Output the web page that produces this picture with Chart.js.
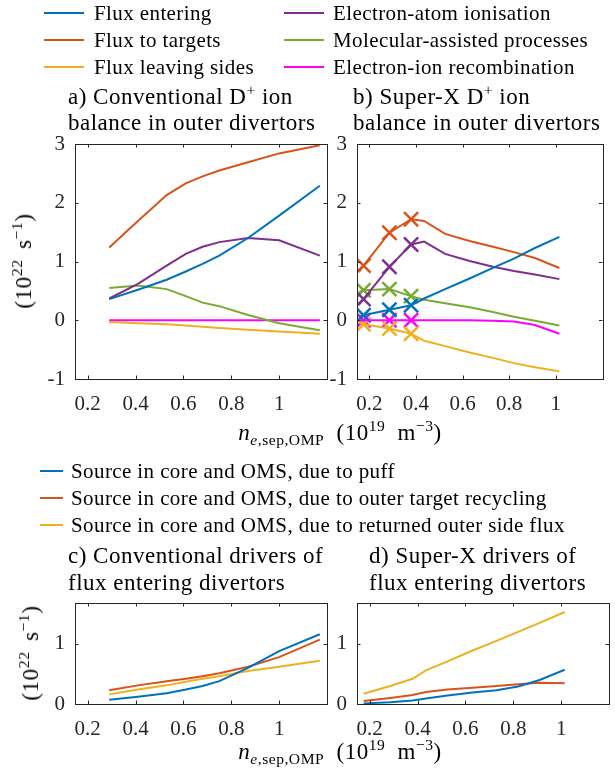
<!DOCTYPE html>
<html><head><meta charset="utf-8">
<script src="https://cdn.jsdelivr.net/npm/chart.js@4"></script>
<style>
html,body{margin:0;padding:0;background:#fff}
body{width:615px;height:772px;overflow:hidden;position:relative;font-family:"Liberation Serif","Times New Roman","DejaVu Serif",serif;color:#000}
canvas{position:absolute;left:0;top:0}
.t{position:absolute;white-space:nowrap;font-size:21px;line-height:24px;height:24px;letter-spacing:0.4px}
.h{font-size:23px;line-height:26px;height:26px;letter-spacing:0.5px}
.ln{position:absolute;height:2px}
sup{font-size:68%;vertical-align:0.55em;line-height:0}
sub{font-size:68%;vertical-align:-0.35em;line-height:0}
.rot{position:absolute;white-space:nowrap;font-size:23px;line-height:24px;transform:translate(-50%,-50%) rotate(-90deg);letter-spacing:0.6px;word-spacing:4px}
.xl{position:absolute;white-space:nowrap;font-size:23px;line-height:24px;transform:translate(-50%,-50%);letter-spacing:0.5px;word-spacing:6px}
</style></head><body>
<canvas id="ca" width="615" height="772"></canvas>
<canvas id="cb" width="615" height="772"></canvas>
<canvas id="cc" width="615" height="772"></canvas>
<canvas id="cd" width="615" height="772"></canvas>

<!-- top legend -->
<div class="ln" style="left:44px;width:40px;top:12px;background:#0072BD"></div><div class="t" style="left:94px;top:1px">Flux entering</div>
<div class="ln" style="left:44px;width:40px;top:39px;background:#D95319"></div><div class="t" style="left:94px;top:28px">Flux to targets</div>
<div class="ln" style="left:44px;width:40px;top:66px;background:#EDB120"></div><div class="t" style="left:94px;top:55px">Flux leaving sides</div>
<div class="ln" style="left:284px;width:40px;top:12px;background:#7E2F8E"></div><div class="t" style="left:333px;top:1px">Electron-atom ionisation</div>
<div class="ln" style="left:284px;width:40px;top:39px;background:#77AC30"></div><div class="t" style="left:333px;top:28px">Molecular-assisted processes</div>
<div class="ln" style="left:284px;width:40px;top:66px;background:#FF00FF"></div><div class="t" style="left:333px;top:55px">Electron-ion recombination</div>

<!-- top titles -->
<div class="t h" style="left:68px;top:84px">a) Conventional D<sup>+</sup> ion</div>
<div class="t h" style="left:68px;top:110px">balance in outer divertors</div>
<div class="t h" style="left:353px;top:84px">b) Super-X D<sup>+</sup> ion</div>
<div class="t h" style="left:353px;top:110px">balance in outer divertors</div>

<div class="rot" style="left:24px;top:261px">(10<sup>22</sup> s<sup>−1</sup>)</div>
<div class="xl" style="left:340px;top:433px"><i>n</i><sub><i>e</i>,sep,OMP</sub> (10<sup>19</sup> m<sup>−3</sup>)</div>

<!-- bottom legend -->
<div class="ln" style="left:40px;width:23px;top:470px;background:#0072BD"></div><div class="t" style="left:71px;top:459px">Source in core and OMS, due to puff</div>
<div class="ln" style="left:40px;width:23px;top:497px;background:#D95319"></div><div class="t" style="left:71px;top:486px">Source in core and OMS, due to outer target recycling</div>
<div class="ln" style="left:40px;width:23px;top:524px;background:#EDB120"></div><div class="t" style="left:71px;top:513px">Source in core and OMS, due to returned outer side flux</div>

<div class="t h" style="left:68px;top:543px">c) Conventional drivers of</div>
<div class="t h" style="left:68px;top:570px">flux entering divertors</div>
<div class="t h" style="left:369px;top:543px">d) Super-X drivers of</div>
<div class="t h" style="left:369px;top:570px">flux entering divertors</div>

<div class="rot" style="left:31px;top:653px">(10<sup>22</sup> s<sup>−1</sup>)</div>
<div class="xl" style="left:340px;top:752px"><i>n</i><sub><i>e</i>,sep,OMP</sub> (10<sup>19</sup> m<sup>−3</sup>)</div>

<script>
// ---- data ----
const xTickValues = [0.2, 0.4, 0.6, 0.8, 1];
const yTickValuesTop = [-1, 0, 1, 2, 3];
const yTickValuesBottom = [0, 1];

// a) Conventional ion balance
const xConv = [0.29, 0.41, 0.53, 0.61, 0.68, 0.75, 0.87, 1.0, 1.17];
const convFluxEntering = [0.36, 0.52, 0.69, 0.83, 0.96, 1.10, 1.40, 1.78, 2.29];
const convFluxTargets  = [1.24, 1.69, 2.13, 2.33, 2.45, 2.55, 2.69, 2.84, 2.98];
const convFluxSides    = [-0.03, -0.05, -0.07, -0.09, -0.11, -0.13, -0.16, -0.19, -0.23];
const convIonisation   = [0.37, 0.62, 0.93, 1.13, 1.25, 1.33, 1.40, 1.36, 1.10];
const convMolecular    = [0.55, 0.59, 0.53, 0.41, 0.30, 0.24, 0.09, -0.05, -0.17];
const convRecomb       = [0, 0, 0, 0, 0, 0, 0, 0, 0];

// b) Super-X ion balance
const xSX = [0.155, 0.175, 0.286, 0.379, 0.435, 0.525, 0.63, 0.73, 0.82, 0.91, 1.015];
const sxFluxEntering = [0.06, 0.085, 0.18, 0.255, 0.37, 0.53, 0.71, 0.89, 1.05, 1.23, 1.42];
const sxFluxTargets  = [0.82, 0.93, 1.49, 1.72, 1.69, 1.47, 1.35, 1.25, 1.16, 1.06, 0.89];
const sxFluxSides    = [-0.03, -0.07, -0.14, -0.23, -0.35, -0.44, -0.55, -0.64, -0.73, -0.80, -0.87];
const sxIonisation   = [0.26, 0.36, 0.91, 1.29, 1.34, 1.13, 1.01, 0.91, 0.84, 0.78, 0.70];
const sxMolecular    = [0.48, 0.51, 0.53, 0.41, 0.35, 0.29, 0.22, 0.14, 0.06, -0.01, -0.09];
const sxRecomb       = [0, 0, 0, 0, 0, 0, 0, -0.01, -0.02, -0.08, -0.23];
// marked (x) cases in Super-X
const xSXMarked = [0.175, 0.286, 0.379];
const sxMarkEntering = [0.085, 0.18, 0.255];
const sxMarkTargets  = [0.93, 1.49, 1.72];
const sxMarkSides    = [-0.07, -0.14, -0.23];
const sxMarkIonisation = [0.36, 0.91, 1.29];
const sxMarkMolecular  = [0.51, 0.53, 0.41];
const sxMarkRecomb     = [0, 0, 0];

// c) Conventional drivers
const convPuff    = [0.07, 0.12, 0.18, 0.24, 0.30, 0.38, 0.60, 0.88, 1.16];
const convRecyc   = [0.23, 0.31, 0.38, 0.42, 0.46, 0.51, 0.62, 0.78, 1.07];
const convReturn  = [0.16, 0.24, 0.31, 0.37, 0.42, 0.46, 0.55, 0.62, 0.72];

// d) Super-X drivers
const xSXd = [0.175, 0.286, 0.379, 0.435, 0.525, 0.63, 0.73, 0.82, 0.91, 1.015];
const sxPuff   = [0.01, 0.03, 0.06, 0.09, 0.14, 0.19, 0.23, 0.29, 0.40, 0.57];
const sxRecyc  = [0.05, 0.10, 0.15, 0.20, 0.24, 0.27, 0.30, 0.33, 0.355, 0.345];
const sxReturn = [0.17, 0.30, 0.42, 0.56, 0.71, 0.89, 1.05, 1.20, 1.35, 1.53];

// ---- style ----
const C = {blue:'#0072BD', orange:'#D95319', yellow:'#EDB120', purple:'#7E2F8E', green:'#77AC30', magenta:'#FF00FF'};
const FONT = '"Liberation Serif","Times New Roman","DejaVu Serif",serif';
const pts = (xs, ys) => xs.map((x, i) => ({x, y: ys[i]}));
const line = (xs, ys, color) => ({data: pts(xs, ys), borderColor: color, backgroundColor: color, borderWidth: 2, pointRadius: 0, tension: 0, fill: false});
const mark = (xs, ys, color) => ({data: pts(xs, ys), borderColor: color, backgroundColor: color, borderWidth: 2.5, pointRadius: 10, pointStyle: 'crossRot', showLine: false});

const frame = {
  id: 'frame',
  afterDraw(chart) {
    const {ctx, chartArea: a, scales} = chart;
    ctx.save();
    ctx.strokeStyle = '#262626';
    ctx.lineWidth = 1;
    ctx.strokeRect(Math.round(a.left) + 0.5, Math.round(a.top) + 0.5, Math.round(a.right - a.left), Math.round(a.bottom - a.top));
    const tl = 3.5;
    ctx.beginPath();
    scales.x.ticks.forEach(t => {
      const px = Math.round(scales.x.getPixelForValue(t.value)) + 0.5;
      ctx.moveTo(px, a.bottom); ctx.lineTo(px, a.bottom - tl);
      ctx.moveTo(px, a.top); ctx.lineTo(px, a.top + tl);
    });
    scales.y.ticks.forEach(t => {
      const py = Math.round(scales.y.getPixelForValue(t.value)) + 0.5;
      ctx.moveTo(a.left, py); ctx.lineTo(a.left + tl, py);
      ctx.moveTo(a.right, py); ctx.lineTo(a.right - tl, py);
    });
    ctx.stroke();
    ctx.restore();
  }
};

function makeChart(id, area, yMin, yMax, yTicks, datasets) {
  const yW = 40, xH = 40;
  new Chart(document.getElementById(id), {
    type: 'line',
    data: {datasets},
    options: {
      responsive: false, animation: false, devicePixelRatio: 1,
      layout: {padding: {left: area.l - yW, top: area.t, right: 615 - area.r, bottom: 772 - area.b - xH}},
      plugins: {legend: {display: false}, tooltip: {enabled: false}},
      scales: {
        x: {
          type: 'linear', min: 0.147, max: 1.2,
          afterBuildTicks: s => { s.ticks = xTickValues.map(v => ({value: v})); },
          afterFit: s => { s.height = xH; },
          grid: {display: false, drawTicks: false},
          border: {display: false},
          ticks: {color: '#262626', padding: 13, font: {family: FONT, size: 21}, callback: v => String(v)}
        },
        y: {
          type: 'linear', min: yMin, max: yMax,
          afterBuildTicks: s => { s.ticks = yTicks.map(v => ({value: v})); },
          afterFit: s => { s.width = yW; },
          grid: {display: false, drawTicks: false},
          border: {display: false},
          ticks: {color: '#262626', padding: 10, font: {family: FONT, size: 21}, callback: v => String(v)}
        }
      }
    },
    plugins: [frame]
  });
}

makeChart('ca', {l: 75, t: 144, r: 327, b: 379}, -1, 3, yTickValuesTop, [
  line(xConv, convFluxEntering, C.blue),
  line(xConv, convFluxTargets, C.orange),
  line(xConv, convFluxSides, C.yellow),
  line(xConv, convIonisation, C.purple),
  line(xConv, convMolecular, C.green),
  line(xConv, convRecomb, C.magenta)
]);

makeChart('cb', {l: 357, t: 144, r: 609, b: 379}, -1, 3, yTickValuesTop, [
  line(xSX, sxFluxEntering, C.blue),
  line(xSX, sxFluxTargets, C.orange),
  line(xSX, sxFluxSides, C.yellow),
  line(xSX, sxIonisation, C.purple),
  line(xSX, sxMolecular, C.green),
  line(xSX, sxRecomb, C.magenta),
  mark(xSXMarked, sxMarkEntering, C.blue),
  mark(xSXMarked, sxMarkTargets, C.orange),
  mark(xSXMarked, sxMarkSides, C.yellow),
  mark(xSXMarked, sxMarkIonisation, C.purple),
  mark(xSXMarked, sxMarkMolecular, C.green),
  mark(xSXMarked, sxMarkRecomb, C.magenta)
]);

makeChart('cc', {l: 75, t: 603, r: 327, b: 704}, 0, 1.68, yTickValuesBottom, [
  line(xConv, convPuff, C.blue),
  line(xConv, convRecyc, C.orange),
  line(xConv, convReturn, C.yellow)
]);

makeChart('cd', {l: 357, t: 603, r: 609, b: 704}, 0, 1.68, yTickValuesBottom, [
  line(xSXd, sxPuff, C.blue),
  line(xSXd, sxRecyc, C.orange),
  line(xSXd, sxReturn, C.yellow)
]);
</script>
</body></html>
